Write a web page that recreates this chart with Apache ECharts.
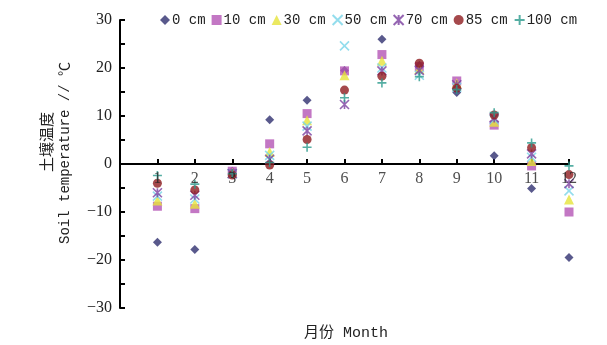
<!DOCTYPE html>
<html><head><meta charset="utf-8">
<script src="https://cdn.jsdelivr.net/npm/echarts@6/dist/echarts.min.js"></script>
<style>html,body{margin:0;padding:0;background:#fff}#c{width:607px;height:345px}</style>
</head><body><div id="c"></div>
<script>
const months = [1,2,3,4,5,6,7,8,9,10,11,12];
const seriesNames = ['0 cm','10 cm','30 cm','50 cm','70 cm','85 cm','100 cm'];
const d0   = [-16.3,-17.8,-1.5, 9.2,13.3,19.5,26.0,20.5,14.9, 1.7,-5.1,-19.5];
const d10  = [-8.8, -9.3,-1.5, 4.2,10.5,19.4,22.8,20.3,17.3, 8.1,-0.4,-10.0];
const d30  = [-7.6, -8.3,-1.8, 2.5, 9.1,18.5,21.5,19.8,16.8, 8.8, 0.6, -7.4];
const d50  = [-6.7, -7.3,-2.0, 1.8, 7.9,24.6,20.0,18.5,16.0, 9.3, 1.4, -5.6];
const d70  = [-6.0, -6.5,-2.0, 1.0, 6.9,12.4,19.4,19.5,16.5, 9.6, 2.1, -4.1];
const d85  = [-4.0, -5.4,-2.3,-0.2, 5.1,15.4,18.3,21.0,15.8,10.2, 3.4, -2.2];
const d100 = [-2.4, -4.2,-2.0, 0.3, 3.5,13.8,16.9,18.2,15.5,10.7, 4.4, -0.4];
const allData = [d0,d10,d30,d50,d70,d85,d100];
const colors = ['#2f2f6f','#b455b5','#e6e43a','#78d4e8','#7b3f9f','#8e1b1f','#2a9a8c'];
const symbols = ['diamond','rect','triangle',
  'path://M0 0L10 10M10 0L0 10',
  'path://M0 0L10 10M10 0L0 10M5 0L5 10',
  'circle',
  'path://M5 0L5 10M0 5L10 5'];
const stroked = [false,false,false,true,true,false,true];
const serif = '"Liberation Serif", "Noto Sans CJK SC", serif';
const mono = '"Liberation Mono", "Noto Sans CJK SC", monospace';

const chart = echarts.init(document.getElementById('c'));
const series = seriesNames.map((n,i)=>({
  name:n, type:'scatter', symbol:symbols[i], symbolSize: stroked[i]?9:(i===2?10:9),
  data: months.map((m,j)=>[m, allData[i][j]]),
  itemStyle: stroked[i] ? {color:'rgba(0,0,0,0)', borderColor:colors[i], borderWidth:1.6} : {color:colors[i]},
  z: 2+i
}));
// month tick labels drawn at the zero line through the axes' scales
series.push({
  name:'monthLabels', type:'scatter', symbol:'circle', symbolSize:1, silent:true,
  itemStyle:{color:'rgba(0,0,0,0)'},
  data: months.map(m=>[m,0]),
  label:{show:true, position:'bottom', distance:6, fontFamily:serif, fontSize:16, color:'#222',
    formatter:p=>String(p.value[0])},
  labelLayout:{hideOverlap:false},
  z:30
});
chart.setOption({
  backgroundColor:'#fff',
  animation:false,
  textStyle:{fontFamily:serif},
  legend:{top:8, left:155, itemGap:6, itemWidth:10, itemHeight:10, data:seriesNames,
    textStyle:{fontFamily:mono, fontSize:14, color:'#222', padding:[0,0,0,-3]}},
  grid:{left:120, right:38, top:20, bottom:37},
  xAxis:{type:'value', min:0, max:12, interval:1, offset:-144,
    axisLine:{onZero:false, lineStyle:{color:'#000', width:2}},
    axisTick:{inside:true, length:5, lineStyle:{color:'#000', width:2}},
    axisLabel:{show:false},
    splitLine:{show:false}},
  yAxis:{type:'value', min:-30, max:30, interval:5,
    axisLine:{lineStyle:{color:'#000', width:2}},
    axisTick:{inside:true, length:5, lineStyle:{color:'#000', width:2}},
    axisLabel:{margin:8, fontFamily:serif, fontSize:16, color:'#222',
      formatter:v=> v%10===0 ? (v<0?'\u2212'+(-v):String(v)) : ''},
    splitLine:{show:false}},
  graphic:[
    {type:'text', x:48, y:142, rotation:Math.PI/2,
      style:{text:'土壤温度', fontFamily:serif, fontSize:15, fill:'#222', align:'center', verticalAlign:'middle'}},
    {type:'text', x:65, y:153, rotation:Math.PI/2,
      style:{text:'Soil temperature // ℃', fontFamily:mono, fontSize:14, fill:'#222', align:'center', verticalAlign:'middle'}},
    {type:'text', x:346, y:333,
      style:{text:'月份 Month', fontFamily:mono, fontSize:15, fill:'#222', align:'center', verticalAlign:'middle'}}
  ],
  series
});
</script></body></html>
